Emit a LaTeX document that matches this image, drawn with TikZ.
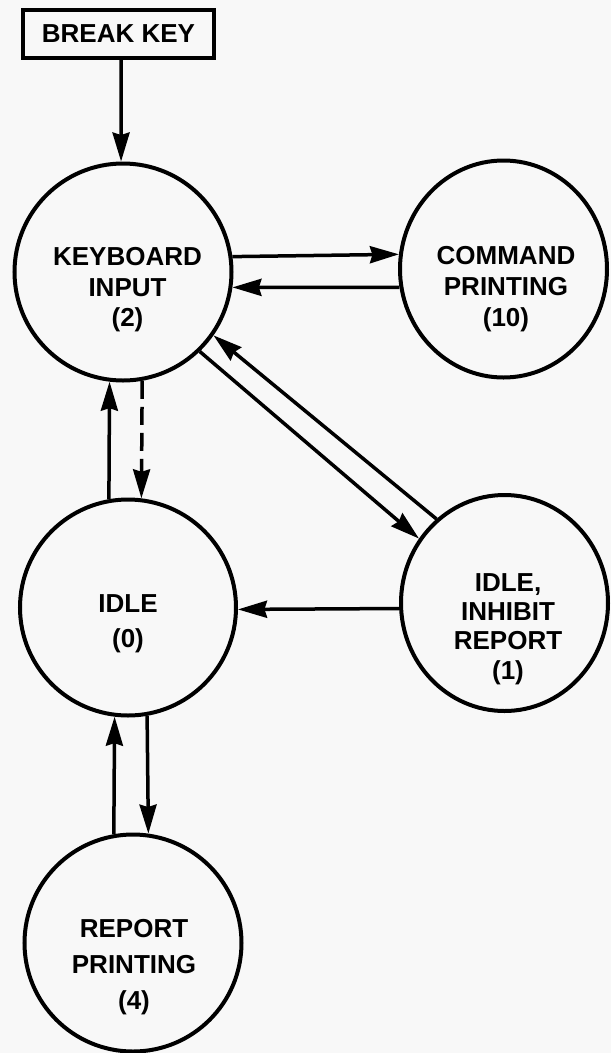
\documentclass[tikz,border=0pt]{standalone}
\usepackage{fontspec}
\setmainfont{Liberation Sans}
\usetikzlibrary{arrows.meta,shapes.geometric}
\definecolor{bg}{RGB}{248,248,248}
\begin{document}
\begin{tikzpicture}[x=1pt,y=-1pt,
  rstate/.style={circle,draw,line width=4pt,minimum size=217pt,inner sep=0pt},
  estate/.style={ellipse,draw,line width=4pt,minimum width=207pt,minimum height=217pt,inner sep=0pt},
  lbl/.style={align=center,inner sep=0pt,font=\bfseries\fontsize{26}{#1}\selectfont},
  lbl/.default=30.5,
  conn/.style={line width=3.5pt,-{Stealth[length=29pt,width=17pt,inset=2.5pt]}},
  dconn/.style={conn,dash pattern=on 18pt off 8pt}
]
\fill[bg] (0,0) rectangle (611,1053);
\useasboundingbox (0,0) rectangle (611,1053);

% nodes
\node[draw,line width=4pt,minimum width=191pt,minimum height=48pt,inner sep=0pt,
      font=\bfseries\fontsize{26}{30}\selectfont] (bk) at (118.5,34) {BREAK KEY};
\node[rstate] (kb) at (123,272) {};
\node[estate] (cmd) at (503.5,269) {};
\node[rstate,minimum size=216pt] (idle) at (128,607.5) {};
\node[estate,minimum width=207pt,minimum height=216pt] (inh) at (504.5,603) {};
\node[rstate] (rep) at (133,943) {};

% labels
\node[lbl] (kbt) at (127.5,290) {KEYBOARD\\INPUT\\(2)};
\node[lbl=31] (cmdt) at (506,289) {COMMAND\\PRINTING\\(10)};
\node[lbl=35] (idlet) at (128,623.5) {IDLE\\(0)};
\node[lbl=29.3] (inht) at (508,629) {IDLE,\\INHIBIT\\REPORT\\(1)};
\node[lbl=36] (rept) at (134,967) {REPORT\\PRINTING\\(4)};

% connectors
\draw[conn] ([xshift=2.5pt]bk.south) -- (kb.91);
\draw[conn] (kb.8.85) -- (cmd.172.4);
\draw[conn] (cmd.190.33) -- (kb.-8.33);
\draw[conn] (kb.-46.5) -- (inh.143.9);
\draw[conn] (inh.129.9) -- (kb.-35.8);
\draw[conn] (idle.100.32) -- (kb.-97.64);
\draw[dconn] (kb.-80.63) -- (idle.83.21);
\draw[conn] (inh.183.8) -- (idle.-1.3);
\draw[conn] (rep.100.19) -- (idle.-97.57);
\draw[conn] (idle.-80.32) -- (rep.82.97);
\end{tikzpicture}
\end{document}
